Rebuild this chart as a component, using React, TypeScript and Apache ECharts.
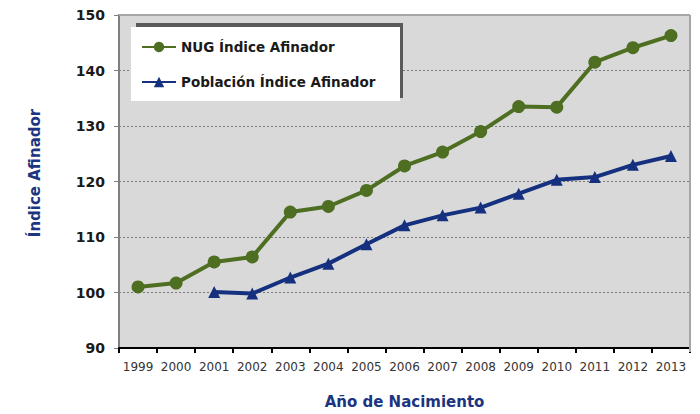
import React, { useEffect, useRef } from "react";
import * as echarts from "echarts";

const years = ["1999","2000","2001","2002","2003","2004","2005","2006","2007","2008","2009","2010","2011","2012","2013"];
const nugValues = [101.0, 101.7, 105.5, 106.4, 114.5, 115.5, 118.4, 122.8, 125.3, 129.0, 133.5, 133.4, 141.5, 144.1, 146.3];
const poblacionValues = [null, null, 100.1, 99.8, 102.7, 105.2, 108.7, 112.1, 113.9, 115.3, 117.8, 120.3, 120.8, 123.0, 124.6];
const seriesNames = ["NUG Índice Afinador", "Población Índice Afinador"];
const yTitle = "Índice Afinador";
const xTitle = "Año de Nacimiento";

export default function App() {
  const ref = useRef<HTMLDivElement>(null);
  useEffect(() => {
    if (!ref.current) return;
    const chart = echarts.init(ref.current, null, { renderer: "svg" });
    const font = "'DejaVu Sans', Verdana, sans-serif";
    const green = "#4e6e22";
    const blue = "#14307e";
    const navy = "#1c3580";
    chart.setOption({
      animation: false,
      backgroundColor: "#ffffff",
      grid: {
        left: 119, right: 10, top: 15, bottom: 62,
        show: true, backgroundColor: "#d9d9d9", borderWidth: 0,
      },
      graphic: [
        { type: "rect", shape: { x: 136, y: 23, width: 267, height: 75 }, style: { fill: "#5a5a5a" }, z: 10 },
        { type: "rect", shape: { x: 131, y: 27, width: 269, height: 74 }, style: { fill: "#ffffff" }, z: 11 },
        { type: "line", shape: { x1: 119, y1: 15, x2: 690, y2: 15 }, style: { stroke: "#a6a6a6", lineWidth: 2 }, z: 5 },
        { type: "line", shape: { x1: 690, y1: 15, x2: 690, y2: 352 }, style: { stroke: "#a6a6a6", lineWidth: 2 }, z: 5 },
        {
          type: "text", x: 35, y: 173, rotation: Math.PI / 2,
          style: { text: yTitle, fill: navy, font: `bold 15px ${font}`, align: "center", verticalAlign: "middle" },
        },
      ],
      legend: {
        orient: "vertical", left: 136, top: 35, itemGap: 21, itemWidth: 34, itemHeight: 13,
        data: seriesNames, z: 20,
        textStyle: { fontFamily: font, fontWeight: "bold", fontSize: 13.5, color: "#1a1a1a" },
      },
      xAxis: {
        type: "category", data: years, boundaryGap: true,
        name: xTitle, nameLocation: "middle", nameGap: 46,
        nameTextStyle: { fontFamily: font, fontWeight: "bold", fontSize: 15, color: navy },
        axisLine: { lineStyle: { color: "#000000", width: 2 } },
        axisTick: { show: true, length: 5, lineStyle: { color: "#000000", width: 2 } },
        axisLabel: { fontFamily: font, fontSize: 12, color: "#333333", margin: 13, interval: 0 },
      },
      yAxis: {
        type: "value", min: 90, max: 150, interval: 10,
        axisLine: { show: true, lineStyle: { color: "#7f7f7f", width: 2 } },
        axisTick: { show: true, length: 5, lineStyle: { color: "#7f7f7f" } },
        axisLabel: { fontFamily: font, fontSize: 14, fontWeight: "bold", color: "#1a1a1a", margin: 14 },
        splitLine: { show: true, lineStyle: { color: "#7a7a7a", type: [2, 2], width: 1 } },
      },
      series: [
        {
          name: seriesNames[0], type: "line", data: nugValues,
          symbol: "circle", symbolSize: 13,
          lineStyle: { color: green, width: 4 }, itemStyle: { color: green },
          z: 3,
        },
        {
          name: seriesNames[1], type: "line", data: poblacionValues,
          symbol: "triangle", symbolSize: 12,
          lineStyle: { color: blue, width: 4 }, itemStyle: { color: blue },
          z: 4,
        },
      ],
    });
    return () => chart.dispose();
  }, []);
  return <div ref={ref} style={{ position: "fixed", left: 0, top: 0, width: 700, height: 414 }} />;
}
